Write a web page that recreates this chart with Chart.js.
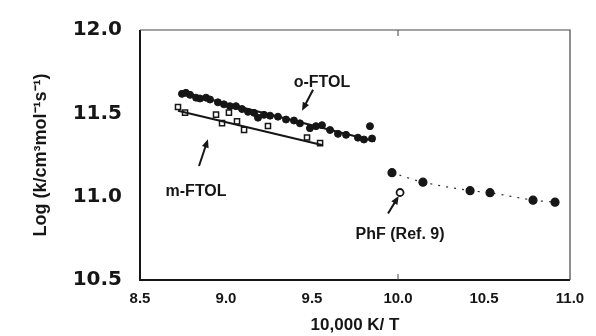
<!DOCTYPE html>
<html>
<head>
<meta charset="utf-8">
<script src="https://cdn.jsdelivr.net/npm/chart.js@4.4.1/dist/chart.umd.min.js"></script>
<style>
  html, body { margin: 0; padding: 0; background: #fff; }
  #wrap { width: 596px; height: 336px; }
</style>
</head>
<body>
<div id="wrap"><canvas id="rates" width="596" height="336"></canvas></div>
<script>
// values (x = 10,000 K/T, y = log k)
var oFtolX = [8.744, 8.767, 8.791, 8.826, 8.849, 8.884, 8.907, 8.953, 8.988, 9.023, 9.058, 9.093, 9.128, 9.163, 9.186, 9.221, 9.256, 9.302, 9.349, 9.395, 9.430, 9.488, 9.523, 9.558, 9.605, 9.651, 9.698, 9.767, 9.802, 9.837, 9.849];
var oFtolY = [11.617, 11.623, 11.611, 11.594, 11.589, 11.594, 11.583, 11.566, 11.554, 11.543, 11.543, 11.526, 11.509, 11.503, 11.474, 11.491, 11.486, 11.480, 11.463, 11.457, 11.440, 11.411, 11.423, 11.429, 11.400, 11.377, 11.371, 11.354, 11.343, 11.423, 11.349];

var mFtolX = [8.721, 8.762, 8.942, 8.977, 9.017, 9.064, 9.105, 9.244, 9.471, 9.547];
var mFtolY = [11.538, 11.504, 11.492, 11.441, 11.504, 11.452, 11.401, 11.424, 11.355, 11.321];

// least-squares lines as drawn in the figure (end points)
var oFitX = [8.733, 9.866];
var oFitY = [11.629, 11.333];
var mFitX = [8.721, 9.558];
var mFitY = [11.515, 11.310];

var phfX = [9.965, 10.145, 10.419, 10.535, 10.785, 10.913];
var phfY = [11.144, 11.087, 11.036, 11.024, 10.979, 10.967];
var phfRefX = [10.012];
var phfRefY = [11.025];

var xTicks = [8.5, 9.0, 9.5, 10.0, 10.5, 11.0];
var yTicks = [10.5, 11.0, 11.5, 12.0];

function pts(xs, ys) {
  return xs.map(function (x, i) { return { x: x, y: ys[i] }; });
}

var ink = '#161616';

// labels + arrows, placed in data coordinates
var notes = [
  { text: 'o-FTOL', x: 9.558, y: 11.686, from: [9.506, 11.641], to: [9.442, 11.515] },
  { text: 'm-FTOL', x: 8.826, y: 11.030, from: [8.843, 11.184], to: [8.895, 11.344] },
  { text: 'PhF (Ref. 9)', x: 10.012, y: 10.773, from: [9.942, 10.899], to: [10.004, 11.004] }
];

var frame = {
  id: 'frame',
  afterDatasetsDraw: function (chart) {
    var c = chart.ctx, a = chart.chartArea;
    var sx = chart.scales.x, sy = chart.scales.y;
    c.save();
    c.strokeStyle = ink;
    c.lineWidth = 2;
    c.beginPath();
    c.moveTo(a.left, a.top);
    c.lineTo(a.left, a.bottom);
    c.lineTo(a.right, a.bottom);
    c.stroke();
    c.lineWidth = 1.2;
    c.strokeStyle = '#444';
    c.beginPath();
    c.moveTo(a.left, a.top);
    c.lineTo(a.right, a.top);
    c.lineTo(a.right, a.bottom);
    c.stroke();
    // short inward ticks at 10.0 as in the scan
    c.lineWidth = 1;
    var tx = sx.getPixelForValue(10.0);
    c.beginPath();
    c.moveTo(tx, a.bottom); c.lineTo(tx, a.bottom - 6);
    c.moveTo(tx, a.top); c.lineTo(tx, a.top + 6);
    c.stroke();

    c.fillStyle = ink;
    c.strokeStyle = ink;
    c.font = 'bold 16px "Liberation Sans", Arial, sans-serif';
    c.textAlign = 'center';
    c.textBaseline = 'middle';
    notes.forEach(function (n) {
      c.fillText(n.text, sx.getPixelForValue(n.x), sy.getPixelForValue(n.y));
      var x0 = sx.getPixelForValue(n.from[0]), y0 = sy.getPixelForValue(n.from[1]);
      var x1 = sx.getPixelForValue(n.to[0]), y1 = sy.getPixelForValue(n.to[1]);
      var ang = Math.atan2(y1 - y0, x1 - x0);
      c.lineWidth = 2;
      c.beginPath();
      c.moveTo(x0, y0);
      c.lineTo(x1 - 6 * Math.cos(ang), y1 - 6 * Math.sin(ang));
      c.stroke();
      c.beginPath();
      c.moveTo(x1, y1);
      c.lineTo(x1 - 9 * Math.cos(ang - 0.4), y1 - 9 * Math.sin(ang - 0.4));
      c.lineTo(x1 - 9 * Math.cos(ang + 0.4), y1 - 9 * Math.sin(ang + 0.4));
      c.closePath();
      c.fill();
    });
    c.restore();
  }
};

var ctx = document.getElementById('rates').getContext('2d');

new Chart(ctx, {
  type: 'scatter',
  data: {
    datasets: [
      {
        label: 'o-FTOL fit',
        data: pts(oFitX, oFitY),
        showLine: true,
        borderColor: ink,
        borderWidth: 2,
        pointRadius: 0
      },
      {
        label: 'm-FTOL fit',
        data: pts(mFitX, mFitY),
        showLine: true,
        borderColor: ink,
        borderWidth: 2,
        pointRadius: 0
      },
      {
        label: 'o-FTOL',
        data: pts(oFtolX, oFtolY),
        pointStyle: 'circle',
        pointRadius: 3.5,
        backgroundColor: ink,
        borderColor: ink
      },
      {
        label: 'm-FTOL',
        data: pts(mFtolX, mFtolY),
        pointStyle: 'rect',
        pointRadius: 3.6,
        borderWidth: 1.5,
        backgroundColor: '#fff',
        borderColor: ink
      },
      {
        label: 'PhF',
        data: pts(phfX, phfY),
        showLine: true,
        tension: 0.3,
        borderDash: [2, 6],
        borderWidth: 1.2,
        borderColor: '#333',
        pointRadius: 4,
        backgroundColor: ink,
        pointBorderColor: ink
      },
      {
        label: 'PhF (Ref. 9)',
        data: pts(phfRefX, phfRefY),
        pointRadius: 3.5,
        borderWidth: 1.8,
        backgroundColor: '#fff',
        borderColor: ink
      }
    ]
  },
  options: {
    responsive: false,
    animation: false,
    layout: { padding: { top: 17, right: 26, left: 0, bottom: 0 } },
    plugins: {
      legend: { display: false },
      tooltip: { enabled: false }
    },
    scales: {
      x: {
        type: 'linear',
        min: 8.5,
        max: 11.0,
        afterBuildTicks: function (s) { s.ticks = xTicks.map(function (v) { return { value: v }; }); },
        afterFit: function (s) { s.height = 56; },
        grid: { display: false, drawTicks: false },
        border: { display: false },
        ticks: {
          color: ink,
          padding: 10,
          maxRotation: 0,
          font: { family: '"Liberation Sans", Arial, sans-serif', weight: 'bold', size: 15 },
          callback: function (v) { return v.toFixed(1); }
        },
        title: {
          display: true,
          text: '10,000 K/ T',
          color: ink,
          padding: { top: 5, bottom: 0 },
          font: { family: '"Liberation Sans", Arial, sans-serif', weight: 'bold', size: 17 }
        }
      },
      y: {
        min: 10.5,
        max: 12.0,
        afterBuildTicks: function (s) { s.ticks = yTicks.map(function (v) { return { value: v }; }); },
        afterFit: function (s) { s.width = 140; },
        grid: { display: false, drawTicks: false },
        border: { display: false },
        ticks: {
          color: ink,
          padding: 18,
          font: { family: '"DejaVu Sans", sans-serif', weight: 'bold', size: 20 },
          callback: function (v) { return v.toFixed(1); }
        },
        title: {
          display: true,
          text: 'Log (k/cm³mol⁻¹s⁻¹)',
          color: ink,
          padding: { top: 30, bottom: 0 },
          font: { family: '"Liberation Sans", Arial, sans-serif', weight: 'bold', size: 18 }
        }
      }
    }
  },
  plugins: [frame]
});
</script>
</body>
</html>
